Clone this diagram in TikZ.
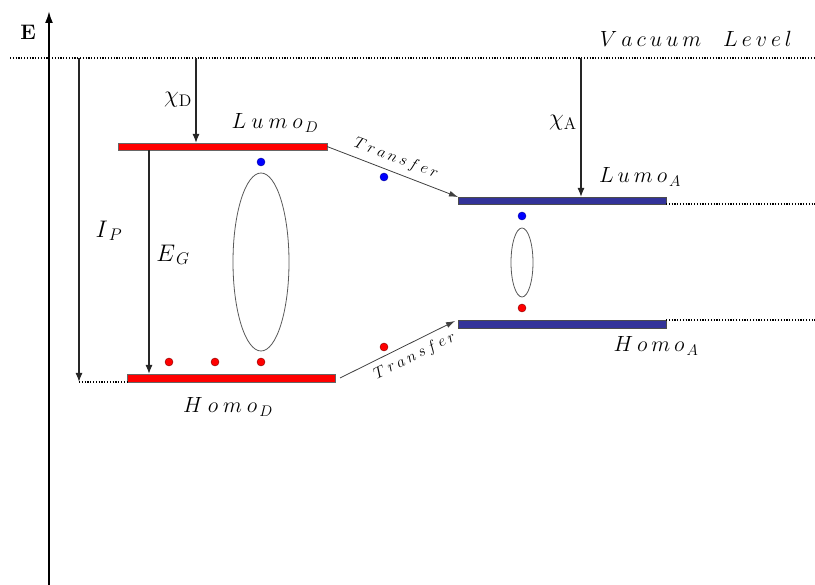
\RequirePackage{fix-cm}
\documentclass[tikz,border=0pt]{standalone}
\usetikzlibrary{arrows.meta,shapes.geometric}
\newcommand{\ks}{\kern5pt}
\newcommand{\kv}{\kern4pt}
\newcommand{\kt}{\kern3pt}
\definecolor{navyb}{RGB}{51,51,153}
\begin{document}
\begin{tikzpicture}[x=1pt,y=-1pt,
  lab/.style={font=\fontsize{22}{26}\selectfont, inner sep=0pt},
  glab/.style={font=\fontsize{24}{28}\selectfont, inner sep=0pt},
  tlab/.style={font=\fontsize{16}{19}\selectfont, inner sep=0pt},
  arr/.style={-{Latex[length=9pt,width=7pt]}, line width=1.3pt, draw=black!85},
  tarr/.style={-{Latex[length=9pt,width=6pt]}, line width=0.8pt, draw=black!75},
  dotl/.style={line width=1.2pt, dash pattern=on 1.2pt off 1.6pt},
  barD/.style={rectangle, draw=black!60, fill=red, line width=0.6pt, minimum height=7pt, inner sep=0pt, outer sep=0pt},
  barA/.style={rectangle, draw=black!70, fill=navyb, line width=0.6pt, minimum height=7pt, inner sep=0pt, outer sep=0pt},
  edot/.style={circle, fill=blue, draw=blue!60!black, line width=0.4pt, minimum size=8pt, inner sep=0pt},
  hdot/.style={circle, fill=red, draw=red!50!black, line width=0.4pt, minimum size=8pt, inner sep=0pt},
  exc/.style={ellipse, draw=black!65, line width=0.8pt, inner sep=0pt}]
\useasboundingbox (0,0) rectangle (815,585);
% energy axis
\coordinate (ebot) at (49,585);
\coordinate (etop) at (49,11);
\draw[line width=2pt, -{Latex[length=12pt,width=8pt]}] (ebot) -- (etop);
\node[font=\fontsize{21}{25}\selectfont\bfseries, inner sep=0pt] (Elab) at (28,32) {E};
% vacuum level
\coordinate (vl) at (10,58);
\coordinate (vr) at (815,58);
\draw[dotl] (vl) -- (vr);
\node[lab] (vaclab) at (696,39) {$V\kv a\kv c\kv u\kv u\kv m\quad L\kv e\kv v\kv e\kv l$};
% levels
\node[barD, minimum width=209pt] (lumoD) at (222.5,146.5) {};
\node[barD, minimum width=208pt, minimum height=8pt] (homoD) at (231,378) {};
\node[barA, minimum width=208pt] (lumoA) at (562,200.5) {};
\node[barA, minimum width=208pt, minimum height=8pt] (homoA) at (562,324) {};
% labels
\node[lab] (lumoDl) at (275,123) {$L\ks u\ks m\ks o\kern2pt_D$};
\node[lab] (homoDl) at (228,407) {$H\ks o\ks m\ks o\kern2pt_D$};
\node[lab] (lumoAl) at (640,177) {$L\kv u\kv m\kv o\kern2pt_A$};
\node[lab] (homoAl) at (656,346) {$H\kv o\kv m\kv o\kern2pt_A$};
\node[glab] (chiDl) at (178,100) {$\chi_{\mathrm{D}}$};
\node[glab] (chiAl) at (563,123) {$\chi_{\mathrm{A}}$};
\node[glab] (ipl) at (109,231) {$I\kern1pt_P$};
\node[glab] (egl) at (173,255) {$E\kern1pt_G$};
% vertical arrows
\coordinate (cD) at (196,58);
\draw[arr] (cD) -- (cD |- lumoD.north);
\coordinate (cA) at (581,58);
\draw[arr] (cA) -- (cA |- lumoA.north);
\coordinate (ipT) at (79,58);
\coordinate (ipB) at (79,382);
\draw[arr] (ipT) -- (ipB);
\draw[dotl] (ipB) -- (homoD.south west);
\coordinate (eg) at (149,0);
\draw[arr] (eg |- lumoD.south) -- (eg |- homoD.north);
% right dotted extensions
\coordinate (rr) at (815,0);
\draw[dotl] (lumoA.south east) -- (lumoA.south east -| rr);
\draw[dotl] (homoA.north east) -- (homoA.north east -| rr);
% transfer arrows
\draw[tarr] (lumoD.east) -- (lumoA.north west)
  node[tlab, pos=0.49, sloped, above=6pt] (t1) {$T\kt r\kt a\kt n\kt s\kt f\kt e\kt r$};
\draw[tarr] ([xshift=5pt]homoD.east) -- ([xshift=-3pt,yshift=-1pt]homoA.north west)
  node[tlab, pos=0.6, sloped, below=6pt] (t2) {$T\kt r\kt a\kt n\kt s\kt f\kt e\kt r$};
% excitons
\node[exc, minimum width=56pt, minimum height=178pt] (excD) at (261,262) {};
\node[exc, minimum width=22pt, minimum height=69pt] (excA) at (522,262.5) {};
% charges
\node[edot] (e1) at (261,162) {};
\node[edot] (e2) at (384,177) {};
\node[edot] (e3) at (522,216) {};
\node[hdot] (h1) at (169,362) {};
\node[hdot] (h2) at (215,362) {};
\node[hdot] (h3) at (261,362) {};
\node[hdot] (h4) at (384,347) {};
\node[hdot] (h5) at (522,308) {};
\end{tikzpicture}
\end{document}
